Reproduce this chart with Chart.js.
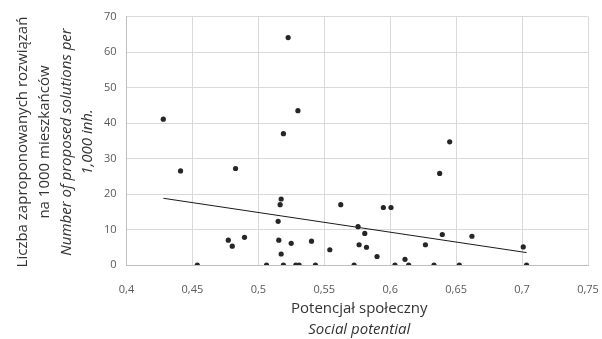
<!DOCTYPE html>
<html>
<head>
<meta charset="utf-8">
<script src="https://cdn.jsdelivr.net/npm/chart.js"></script>
<style>
  body { margin: 0; background: #fff; }
  #wrap { width: 602px; height: 339px; }
</style>
</head>
<body>
<div id="wrap"><canvas id="chart" width="602" height="339"></canvas></div>
<script>
// social potential (x) and solutions per 1000 inhabitants (y)
const potential = [0.4279, 0.441, 0.4537, 0.4772, 0.4802, 0.4827, 0.4895, 0.5062, 0.515, 0.5155,
  0.5165, 0.5173, 0.5173, 0.519, 0.519, 0.5226, 0.5249, 0.5284, 0.530, 0.5309,
  0.5403, 0.5433, 0.5542, 0.5625, 0.5726, 0.5756, 0.5764, 0.5807, 0.582, 0.590,
  0.5948, 0.6006, 0.6036, 0.6112, 0.614, 0.6267, 0.6332, 0.6375, 0.6395, 0.6451,
  0.6524, 0.662, 0.7009, 0.7034];
const solutions = [41.1, 26.5, 0, 7.0, 5.3, 27.2, 7.8, 0, 12.3, 7.0,
  17.0, 18.6, 3.1, 37.0, 0, 64.1, 6.1, 0, 43.5, 0,
  6.7, 0, 4.3, 17.0, 0, 10.8, 5.7, 8.9, 5.0, 2.4,
  16.2, 16.2, 0, 1.6, 0, 5.7, 0, 25.8, 8.6, 34.7,
  0, 8.1, 5.1, 0];

// linear trend line ends
const trendX = [0.428, 0.7034];
const trendY = [18.8, 3.5];

const xTitle = ["Potencjał społeczny", "Social potential"];
const yTitle = ["Liczba zaproponowanych rozwiązań", "na 1000 mieszkańców",
  "Number of proposed solutions per", "1,000 inh."];

const points = potential.map((v, i) => ({ x: v, y: solutions[i] }));
const trend = trendX.map((v, i) => ({ x: v, y: trendY[i] }));

const fontName = "'Open Sans', sans-serif";

// axis titles: first lines normal, english lines italic
const titles = {
  id: "titles",
  afterDraw(chart) {
    const ctx = chart.ctx;
    ctx.save();
    ctx.fillStyle = "#333333";
    ctx.textAlign = "center";
    ctx.textBaseline = "alphabetic";
    const cx = (chart.chartArea.left + chart.chartArea.right) / 2 + 2;
    ctx.font = "15px " + fontName;
    ctx.fillText(xTitle[0], cx, 312.5);
    ctx.font = "italic 15px " + fontName;
    ctx.fillText(xTitle[1], cx, 334);

    ctx.translate(0, 142);
    ctx.rotate(-Math.PI / 2);
    const base = [26.7, 49.3, 70.7, 91.7];
    yTitle.forEach((t, i) => {
      ctx.font = (i >= 2 ? "italic " : "") + "15px " + fontName;
      ctx.fillText(t, 0, base[i]);
    });
    ctx.restore();
  }
};

const config = {
  type: "scatter",
  data: {
    datasets: [
      {
        label: "dane",
        data: points,
        backgroundColor: "#262626",
        borderColor: "#262626",
        pointRadius: 2.6,
        pointBorderWidth: 0
      },
      {
        label: "trend",
        type: "line",
        data: trend,
        borderColor: "#1a1a1a",
        borderWidth: 1,
        pointRadius: 0,
        fill: false
      }
    ]
  },
  options: {
    responsive: false,
    animation: false,
    layout: { padding: { top: 14, right: 0, left: 0, bottom: 0 } },
    plugins: { legend: { display: false }, tooltip: { enabled: false } },
    scales: {
      x: {
        type: "linear",
        min: 0.4,
        max: 0.75,
        afterFit: s => { s.height = 74; s.paddingRight = 14; },
        ticks: {
          stepSize: 0.05,
          padding: 18,
          color: "#595959",
          font: { family: fontName, size: 11 },
          callback: v => String(Math.round(v * 100) / 100).replace(".", ",")
        },
        grid: { color: "#d9d9d9", drawTicks: false },
        border: { color: "#bfbfbf" }
      },
      y: {
        min: 0,
        max: 70,
        afterFit: s => { s.width = 126.5; },
        ticks: {
          stepSize: 10,
          padding: 10,
          color: "#595959",
          font: { family: fontName, size: 11 }
        },
        grid: { color: "#d9d9d9", drawTicks: false },
        border: { color: "#bfbfbf" }
      }
    }
  },
  plugins: [titles]
};

const myChart = new Chart(document.getElementById("chart"), config);
</script>
</body>
</html>
